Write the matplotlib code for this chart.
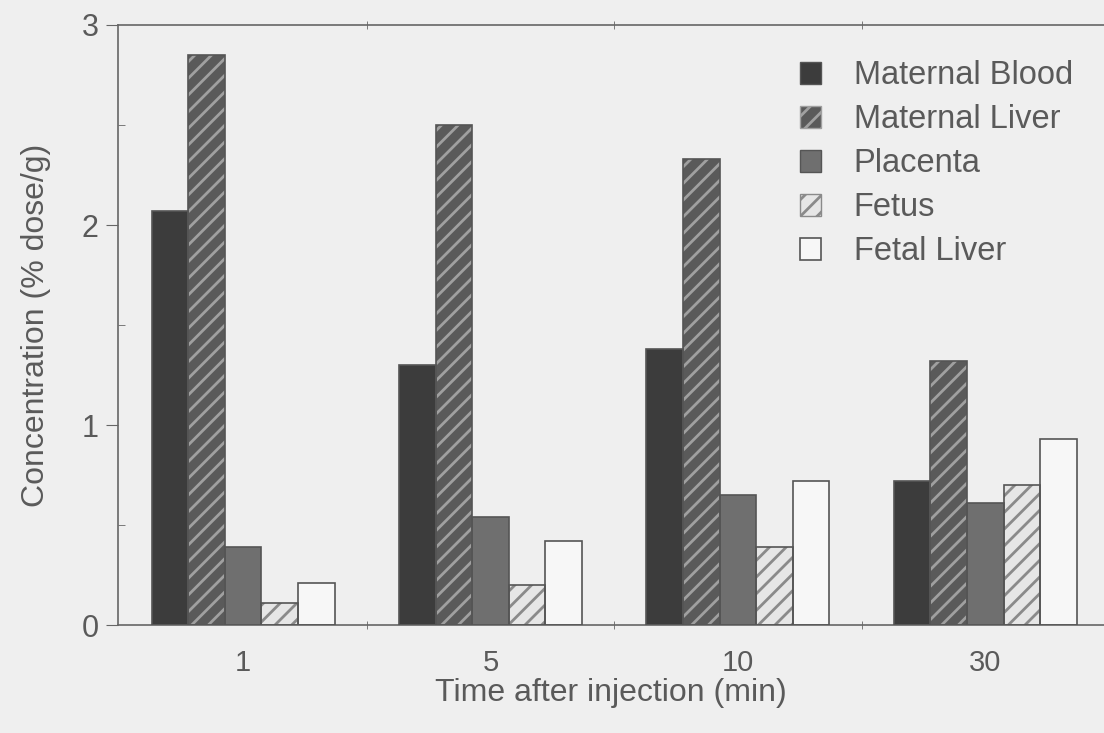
import numpy as np
import matplotlib
matplotlib.use("Agg")
from matplotlib import pyplot as plt
from matplotlib.patches import Patch

# data
times = ["1", "5", "10", "30"]
series = ["Maternal Blood", "Maternal Liver", "Placenta", "Fetus", "Fetal Liver"]
maternal_blood = [2.07, 1.30, 1.38, 0.72]
maternal_liver = [2.85, 2.50, 2.33, 1.32]
placenta = [0.39, 0.54, 0.65, 0.61]
fetus = [0.11, 0.20, 0.39, 0.70]
fetal_liver = [0.21, 0.42, 0.72, 0.93]

values = [maternal_blood, maternal_liver, placenta, fetus, fetal_liver]
faces = ["#3c3c3c", "#5a5a5a", "#6f6f6f", "#e6e6e6", "#f7f7f7"]
hatch_col = ["#3c3c3c", "#a0a0a0", "#6f6f6f", "#8a8a8a", "#f7f7f7"]
hatches = [None, "//", None, "//", None]
edge = "#555555"
bg = "#efefef"
txt = "#5a5a5a"

plt.rcParams["font.family"] = ["Liberation Sans", "DejaVu Sans"]
plt.rcParams["hatch.linewidth"] = 2.0

fig = plt.figure(figsize=(11.04, 7.33), dpi=100, facecolor=bg)
ax = fig.add_axes([0.107, 0.147, 0.893, 0.819])
ax.set_facecolor(bg)

x = np.arange(len(times))
w = 0.148
for i, vals in enumerate(values):
    pos = x + (i - 2) * w
    ax.bar(pos, vals, w, color=faces[i], edgecolor=hatch_col[i], linewidth=0,
           hatch=hatches[i], zorder=2)
    ax.bar(pos, vals, w, fill=False, edgecolor=edge, linewidth=1.2, zorder=3)

ax.set_xlim(-0.505, 3.48)
ax.set_ylim(0, 3)

for s in ["top", "bottom", "left"]:
    ax.spines[s].set_color("#666666")
    ax.spines[s].set_linewidth(1.2)
ax.spines["right"].set_visible(False)

ax.set_xticks(x)
ax.set_xticklabels(times)
ax.set_xticks([0.5, 1.5, 2.5], minor=True)
ax.tick_params(axis="x", which="major", length=0, pad=17, labelsize=21, labelcolor=txt)
ax.tick_params(axis="x", which="minor", length=6, direction="inout", top=True,
               color="#666666")

ax.set_yticks([0, 1, 2, 3])
ax.set_yticks([0.5, 1.5, 2.5], minor=True)
ax.tick_params(axis="y", which="major", length=9, direction="out", pad=5,
               labelsize=22, labelcolor=txt, color="#666666")
ax.tick_params(axis="y", which="minor", length=5, direction="in", color="#666666")

ax.set_xlabel("Time after injection (min)", fontsize=23, color=txt, labelpad=1)
ax.set_ylabel("Concentration (% dose/g)", fontsize=23, color=txt, labelpad=22)

handles = [Patch(facecolor=faces[i], edgecolor=hatch_col[i] if hatches[i] else edge,
                 hatch=hatches[i], linewidth=1.0) for i in range(len(series))]
handles[-1] = Patch(facecolor=faces[-1], edgecolor=edge, linewidth=1.2)
leg = ax.legend(handles, series, loc="upper left", bbox_to_anchor=(0.7246, 0.918),
                bbox_transform=fig.transFigure, borderpad=0, borderaxespad=0,
                frameon=False, fontsize=23.5, labelcolor=txt, handlelength=0.65,
                handleheight=0.65, handletextpad=1.0, labelspacing=0.4)

fig.savefig("out.png", dpi=100, facecolor=bg)
